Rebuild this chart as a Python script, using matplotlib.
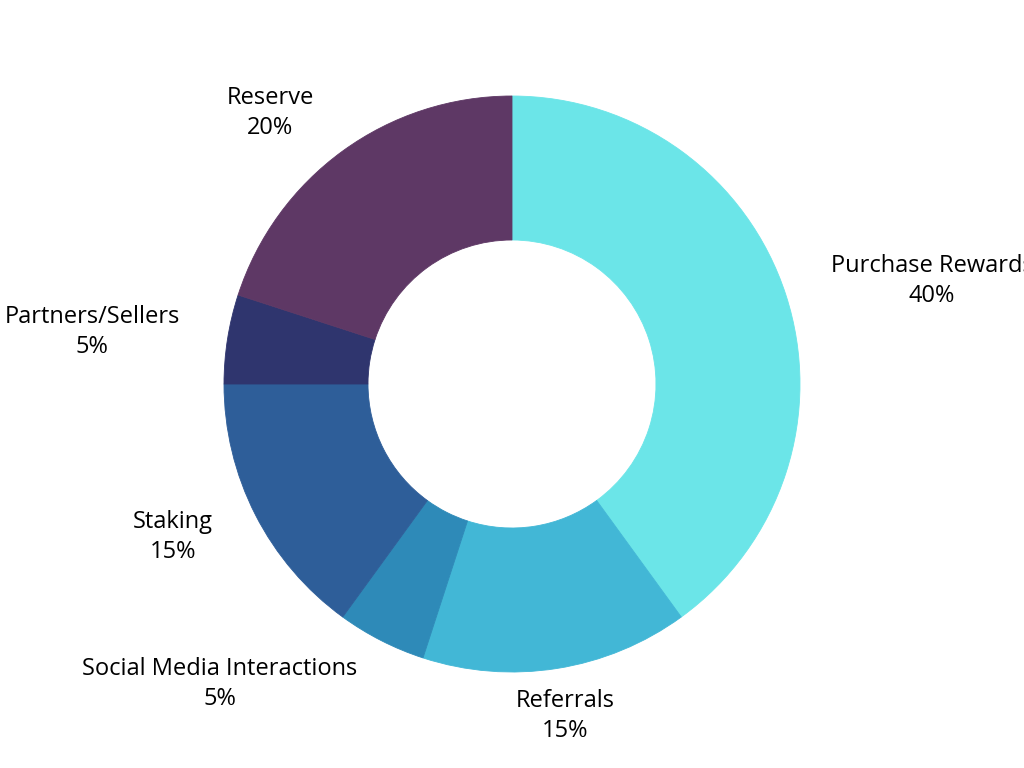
"""Token allocation donut chart."""

import numpy as np
import matplotlib.pyplot as plt

LABELS = [
    "Purchase Rewards",
    "Referrals",
    "Social Media Interactions",
    "Staking",
    "Partners/Sellers",
    "Reserve",
]
SHARES = [40, 15, 5, 15, 5, 20]
COLORS = ["#6BE5E8", "#42B7D6", "#2E8AB8", "#2E5E99", "#2F356E", "#5E3865"]

# label centres in figure pixels (x, y from top), layout only
LABEL_POS = [(932, 281), (565, 716), (220, 684), (173, 537), (92, 332), (270, 113)]

W, H = 1024, 768
CENTER = (512, H - 384)
R_OUT = 288
R_IN = 144

plt.rcParams["font.family"] = ["Open Sans", "DejaVu Sans"]

fig = plt.figure(figsize=(W / 100, H / 100), dpi=100)
ax = fig.add_axes([0, 0, 1, 1])

wedges, _ = ax.pie(
    SHARES,
    colors=COLORS,
    startangle=90,
    counterclock=False,
    center=CENTER,
    radius=R_OUT,
    wedgeprops=dict(width=R_OUT - R_IN, linewidth=0.6),
    frame=True,
)
for w in wedges:
    w.set_edgecolor(w.get_facecolor())

ax.set_xlim(0, W)
ax.set_ylim(0, H)
ax.axis("off")

for label, share, (x, y) in zip(LABELS, SHARES, LABEL_POS):
    ax.text(
        x, H - y, f"{label}\n{share}%",
        ha="center", va="center", fontsize=17, color="#000000",
        linespacing=1.37,
    )

fig.savefig("out.png", dpi=100, facecolor="white")
